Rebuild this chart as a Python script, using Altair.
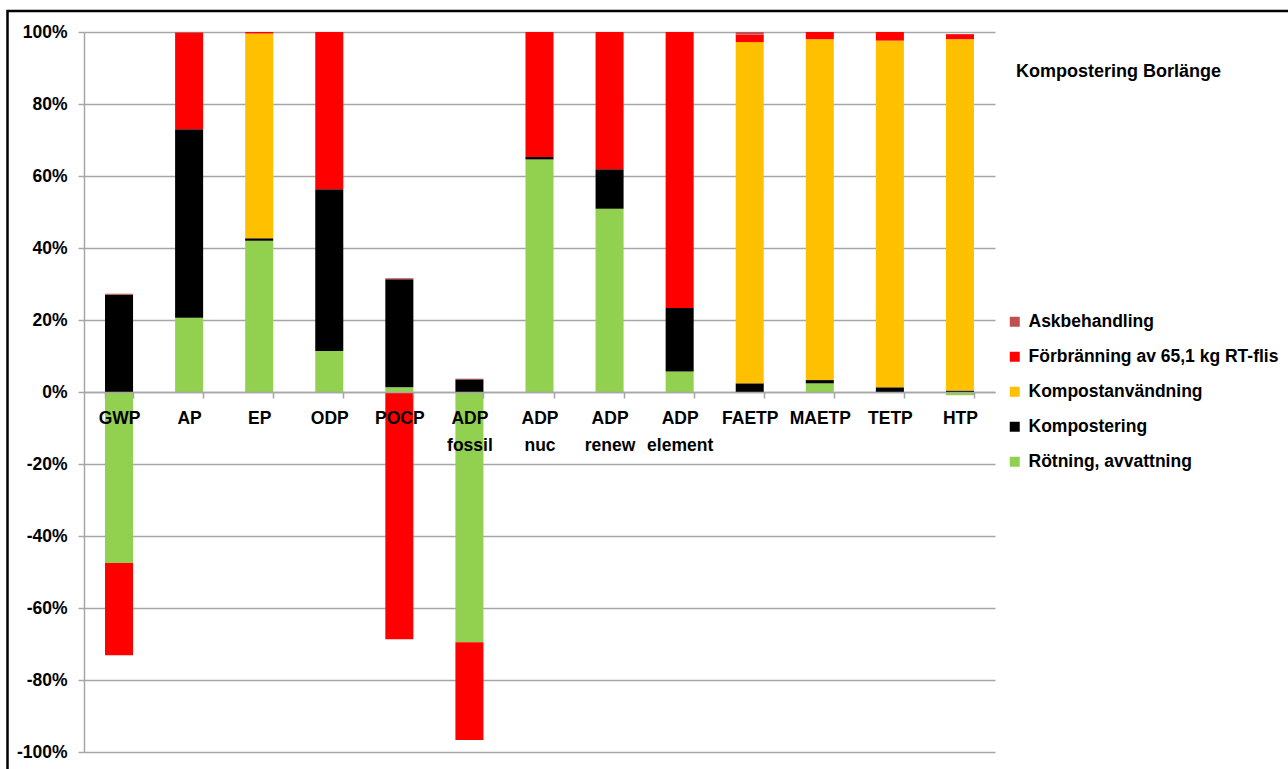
import altair as alt
import pandas as pd

# Impact categories (x axis)
categories = ["GWP", "AP", "EP", "ODP", "POCP", "ADP fossil", "ADP nuc",
              "ADP renew", "ADP element", "FAETP", "MAETP", "TETP", "HTP"]

# Share of each process in every impact category, in percent
rotning = [-47.5, 20.6, 42.0, 11.4, 1.3, -69.5, 64.6, 50.9, 5.7, 0.0, 2.4, 0.0, -0.9]
kompostering = [27.0, 52.4, 0.7, 44.9, 30.0, 3.5, 0.7, 11.0, 17.6, 2.4, 0.9, 1.3, 0.4]
kompostanvandning = [0.0, 0.0, 56.9, 0.0, 0.0, 0.0, 0.0, 0.0, 0.0, 94.8, 94.7, 96.3, 97.6]
forbranning = [-25.6, 26.8, 0.4, 43.7, -68.7, -27.2, 34.7, 38.1, 76.7, 2.1, 2.0, 2.4, 1.4]
askbehandling = [0.3, 0.2, 0.0, 0.0, 0.3, 0.2, 0.0, 0.0, 0.0, 0.7, 0.0, 0.0, 0.0]

series_names = ["Askbehandling", "Förbränning av 65,1 kg RT-flis",
                "Kompostanvändning", "Kompostering", "Rötning, avvattning"]
series_colors = ["#C0504D", "#FF0000", "#FFC000", "#000000", "#92D050"]
y_ticks = [-100, -80, -60, -40, -20, 0, 20, 40, 60, 80, 100]

# Stacking order from the zero line outwards
stack_order = {
    "Rötning, avvattning": (0, rotning),
    "Kompostering": (1, kompostering),
    "Kompostanvändning": (2, kompostanvandning),
    "Förbränning av 65,1 kg RT-flis": (3, forbranning),
    "Askbehandling": (4, askbehandling),
}

rows = []
for name, (order, values) in stack_order.items():
    for cat, v in zip(categories, values):
        if v != 0:
            rows.append({"kategori": cat, "process": name, "andel": v, "ordning": order})
df = pd.DataFrame(rows)

FONT = "Liberation Sans"
FS = 17.5
GRAY = "#A6A6A6"

W, H = 911, 720
PAD_L, PAD_T = 84, 32

bars = alt.Chart(df).mark_bar().encode(
    x=alt.X("kategori:N", sort=categories,
            scale=alt.Scale(paddingInner=0.6, paddingOuter=0.3),
            axis=alt.Axis(title=None, labelAngle=0, offset=-H / 2, zindex=1,
                          labelExpr="split(datum.label, ' ')",
                          labelFont=FONT, labelFontWeight="bold", labelFontSize=FS,
                          labelLineHeight=27, labelColor="black",
                          labelBaseline="alphabetic", labelPadding=25,
                          tickBand="extent", tickSize=6, tickColor=GRAY, tickWidth=1.5,
                          domainColor=GRAY, domainWidth=1.5, grid=False)),
    y=alt.Y("andel:Q", stack="zero",
            scale=alt.Scale(domain=[-100, 100], nice=False),
            axis=alt.Axis(title=None, values=y_ticks, labelExpr="datum.value + '%'",
                          labelFont=FONT, labelFontWeight="bold", labelFontSize=FS,
                          labelColor="black", labelPadding=11,
                          tickSize=6, tickColor=GRAY, tickWidth=1.5,
                          domainColor=GRAY, domainWidth=1.5,
                          grid=True, gridColor=GRAY, gridWidth=1.5)),
    color=alt.Color("process:N",
                    scale=alt.Scale(domain=series_names, range=series_colors),
                    legend=alt.Legend(title=None, orient="none",
                                      legendX=922, legendY=281, padding=0,
                                      symbolType="square", symbolSize=100,
                                      symbolStrokeWidth=0, rowPadding=16,
                                      labelFont=FONT, labelFontWeight="bold",
                                      labelFontSize=FS, labelColor="black",
                                      labelOffset=5, labelLimit=400)),
    order=alt.Order("ordning:Q", sort="ascending"),
)

title = alt.Chart(pd.DataFrame({"t": ["Kompostering Borlänge"]})).mark_text(
    align="left", baseline="alphabetic", font=FONT, fontWeight="bold",
    fontSize=18, color="black"
).encode(text="t:N", x=alt.value(932), y=alt.value(45))

frame = alt.Chart(pd.DataFrame({"f": [1]})).mark_rect(
    fill=None, stroke="black", strokeWidth=2.5
).encode(x=alt.value(-76.5), x2=alt.value(1260), y=alt.value(-21), y2=alt.value(800))

chart = alt.layer(bars, title, frame).properties(
    width=W, height=H,
    autosize=alt.AutoSizeParams(type="none"),
    padding={"left": PAD_L, "top": PAD_T, "right": 1288 - PAD_L - W, "bottom": 769 - PAD_T - H},
).configure_view(stroke=None)

chart.save("out.html", embed_options={"renderer": "svg", "actions": False})
